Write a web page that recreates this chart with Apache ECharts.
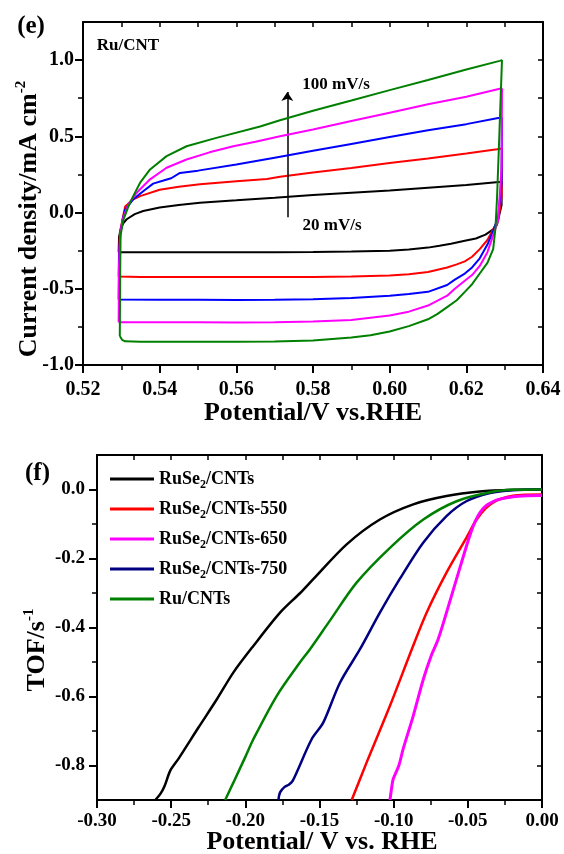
<!DOCTYPE html>
<html><head><meta charset="utf-8">
<script src="https://cdn.jsdelivr.net/npm/echarts@6/dist/echarts.min.js"></script>
<style>html,body{margin:0;padding:0;background:#fff}#c{width:564px;height:854px}</style>
</head><body><div id="c"></div>
<script>
const FONT = '"Liberation Serif","Times New Roman",serif';

// ---------- panel (e): CV of Ru/CNT ----------
const cvXMajor = [0.52, 0.54, 0.56, 0.58, 0.60, 0.62, 0.64];
const cvXMinor = [0.53, 0.55, 0.57, 0.59, 0.61, 0.63];
const cvYMajor = [-1.0, -0.5, 0.0, 0.5, 1.0];
const cvYMinor = [-0.75, -0.25, 0.25, 0.75];
const scanRates = ['20 mV/s', '40 mV/s', '60 mV/s', '80 mV/s', '100 mV/s'];
const cvColors = ['#000000', '#ff0000', '#0000ff', '#ff00ff', '#008000'];
const arrowX = 0.5733;
const arrowY = [-0.03, 0.79];

const cv20 = [[0.5293,-0.26],[0.5294,-0.16],[0.5298,-0.11],[0.5305,-0.07],[0.5314,-0.044],[0.5335,-0.01],[0.5357,0.01],[0.54,0.033],[0.545,0.05],[0.5505,0.065],[0.56,0.08],[0.57,0.097],[0.58,0.115],[0.59,0.13],[0.60,0.145],[0.61,0.163],[0.62,0.18],[0.6285,0.2],[0.6292,0.2],[0.6292,0.05],[0.628,-0.08],[0.627,-0.11],[0.625,-0.145],[0.6225,-0.17],[0.6196,-0.185],[0.616,-0.205],[0.613,-0.218],[0.61,-0.23],[0.605,-0.242],[0.60,-0.25],[0.59,-0.255],[0.58,-0.258],[0.57,-0.26],[0.56,-0.26],[0.55,-0.26],[0.54,-0.26],[0.535,-0.26],[0.5293,-0.26]];
const cv40 = [[0.5293,-0.42],[0.5294,-0.25],[0.5297,-0.12],[0.5305,-0.02],[0.531,0.04],[0.533,0.085],[0.5349,0.108],[0.54,0.15],[0.545,0.17],[0.5505,0.185],[0.56,0.205],[0.568,0.22],[0.5714,0.235],[0.58,0.262],[0.59,0.293],[0.60,0.325],[0.61,0.355],[0.62,0.388],[0.628,0.415],[0.6293,0.42],[0.6292,0.1],[0.6283,-0.05],[0.627,-0.11],[0.6255,-0.18],[0.6235,-0.24],[0.6215,-0.29],[0.6196,-0.32],[0.6175,-0.34],[0.615,-0.36],[0.61,-0.39],[0.605,-0.405],[0.60,-0.413],[0.59,-0.42],[0.58,-0.423],[0.57,-0.423],[0.56,-0.423],[0.55,-0.422],[0.54,-0.422],[0.535,-0.422],[0.5293,-0.42]];
const cv60 = [[0.5293,-0.57],[0.5294,-0.3],[0.5297,-0.15],[0.5303,-0.05],[0.531,0.02],[0.5331,0.087],[0.5357,0.14],[0.5383,0.19],[0.541,0.21],[0.543,0.225],[0.5453,0.26],[0.55,0.275],[0.56,0.315],[0.57,0.36],[0.58,0.405],[0.59,0.45],[0.60,0.495],[0.61,0.54],[0.62,0.58],[0.6283,0.62],[0.6293,0.62],[0.6292,0.2],[0.6283,-0.03],[0.627,-0.12],[0.6255,-0.21],[0.6235,-0.30],[0.6215,-0.36],[0.6196,-0.40],[0.617,-0.44],[0.615,-0.475],[0.61,-0.52],[0.605,-0.535],[0.60,-0.545],[0.59,-0.56],[0.58,-0.568],[0.57,-0.572],[0.56,-0.573],[0.55,-0.572],[0.54,-0.572],[0.5293,-0.57]];
const cv80 = [[0.5293,-0.72],[0.5294,-0.35],[0.5297,-0.15],[0.5303,-0.05],[0.531,0.0],[0.532,0.06],[0.534,0.13],[0.5375,0.218],[0.5418,0.294],[0.547,0.348],[0.553,0.395],[0.5592,0.435],[0.565,0.465],[0.5714,0.5],[0.58,0.545],[0.59,0.6],[0.60,0.655],[0.61,0.71],[0.62,0.76],[0.6287,0.812],[0.6293,0.812],[0.6292,0.3],[0.6283,-0.05],[0.627,-0.15],[0.6255,-0.26],[0.6235,-0.35],[0.6215,-0.41],[0.6196,-0.447],[0.617,-0.5],[0.615,-0.545],[0.61,-0.61],[0.605,-0.65],[0.60,-0.675],[0.59,-0.705],[0.58,-0.715],[0.57,-0.72],[0.56,-0.722],[0.55,-0.72],[0.54,-0.72],[0.5293,-0.72]];
const cv100 = [[0.5296,-0.81],[0.5297,-0.4],[0.5298,-0.15],[0.5305,-0.05],[0.532,0.05],[0.5331,0.108],[0.5349,0.196],[0.5375,0.283],[0.5418,0.37],[0.547,0.435],[0.5548,0.49],[0.5662,0.565],[0.5714,0.606],[0.58,0.668],[0.59,0.735],[0.60,0.803],[0.61,0.87],[0.62,0.938],[0.6287,0.995],[0.6293,1.0],[0.6286,0.5],[0.628,0.09],[0.6276,-0.1],[0.627,-0.24],[0.6255,-0.33],[0.6235,-0.40],[0.6215,-0.47],[0.6196,-0.52],[0.6175,-0.575],[0.615,-0.62],[0.6125,-0.665],[0.61,-0.70],[0.605,-0.745],[0.60,-0.78],[0.595,-0.805],[0.59,-0.82],[0.58,-0.84],[0.57,-0.846],[0.56,-0.848],[0.55,-0.847],[0.54,-0.848],[0.535,-0.847],[0.531,-0.845],[0.5302,-0.835],[0.5296,-0.81]];
const cvSeries = [cv20, cv40, cv60, cv80, cv100];

// ---------- panel (f): TOF ----------
const tofXMajor = [-0.30, -0.25, -0.20, -0.15, -0.10, -0.05, 0.00];
const tofXMinor = [-0.275, -0.225, -0.175, -0.125, -0.075, -0.025];
const tofYMajor = [-0.8, -0.6, -0.4, -0.2, 0.0];
const tofYMinor = [-0.7, -0.5, -0.3, -0.1];
const tofNames = ['RuSe2/CNTs', 'RuSe2/CNTs-550', 'RuSe2/CNTs-650', 'RuSe2/CNTs-750', 'Ru/CNTs'];
const tofColors = ['#000000', '#ff0000', '#ff00ff', '#000080', '#008000'];

const tofRuSe2 = [[-0.2607,-0.9],[-0.2574,-0.883],[-0.2545,-0.86],[-0.2506,-0.815],[-0.245,-0.78],[-0.2316,-0.69],[-0.2192,-0.608],[-0.208,-0.53],[-0.1946,-0.4535],[-0.1766,-0.357],[-0.163,-0.3],[-0.1542,-0.26],[-0.1317,-0.159],[-0.1093,-0.087],[-0.0868,-0.043],[-0.0644,-0.019],[-0.042,-0.006],[-0.0195,-0.001],[0,0]];
const tof550 = [[-0.1283,-0.9],[-0.1182,-0.791],[-0.1025,-0.627],[-0.0875,-0.46],[-0.0778,-0.357],[-0.0644,-0.241],[-0.051,-0.14],[-0.0445,-0.09],[-0.038,-0.055],[-0.0307,-0.032],[-0.0195,-0.018],[-0.01,-0.015],[0,-0.0145]];
const tof650 = [[-0.1025,-0.9],[-0.1012,-0.86],[-0.1003,-0.839],[-0.0965,-0.8],[-0.0936,-0.752],[-0.0868,-0.656],[-0.08,-0.55],[-0.0745,-0.48],[-0.07,-0.434],[-0.0644,-0.357],[-0.0543,-0.212],[-0.0464,-0.106],[-0.0397,-0.055],[-0.0307,-0.031],[-0.0195,-0.021],[-0.01,-0.018],[0,-0.0174]];
const tof750 = [[-0.1777,-0.9],[-0.1766,-0.878],[-0.1735,-0.862],[-0.1705,-0.855],[-0.168,-0.844],[-0.1553,-0.724],[-0.1474,-0.675],[-0.1362,-0.56],[-0.1227,-0.463],[-0.1093,-0.357],[-0.096,-0.26],[-0.0801,-0.154],[-0.0644,-0.077],[-0.051,-0.034],[-0.035,-0.01],[-0.0195,-0.002],[0,0]];
const tofRu = [[-0.2136,-0.9],[-0.208,-0.849],[-0.2,-0.775],[-0.1946,-0.724],[-0.1788,-0.598],[-0.163,-0.5],[-0.1564,-0.463],[-0.143,-0.38],[-0.125,-0.27],[-0.1025,-0.169],[-0.08,-0.087],[-0.0576,-0.034],[-0.035,-0.008],[-0.0195,-0.001],[0,0]];
const tofSeries = [tofRuSe2, tof550, tof650, tof750, tofRu];
const tofWidths = [2.5, 2.5, 3, 2.5, 2.5];

function axis(gridIndex, min, max, position, tickVals, tickLen, inside, labelVals, digits, fontSize, margin, showLine, tickW) {
  return {
    gridIndex: gridIndex, type: 'value', min: min, max: max, position: position,
    axisLine: { show: showLine, onZero: false, lineStyle: { color: '#000', width: 2 } },
    axisTick: { show: true, inside: inside, length: tickLen, customValues: tickVals, lineStyle: { color: '#000', width: tickW } },
    axisLabel: labelVals ? {
      show: true, customValues: labelVals, showMinLabel: true, showMaxLabel: true,
      formatter: function (v) { return Number(v).toFixed(digits); },
      fontSize: fontSize, fontWeight: 'bold', fontFamily: FONT, color: '#000', margin: margin
    } : { show: false },
    splitLine: { show: false }, minorTick: { show: false }, minorSplitLine: { show: false }
  };
}

const xAxes = [
  axis(0, 0.52, 0.64, 'bottom', cvXMajor, 8, false, cvXMajor, 2, 20, 15, true, 2),
  axis(0, 0.52, 0.64, 'bottom', cvXMinor, 5, false, null, 0, 0, 0, false, 1.5),
  axis(0, 0.52, 0.64, 'top', cvXMajor.concat(cvXMinor), 5, true, null, 0, 0, 0, true, 1.5),
  axis(1, -0.30, 0.00, 'bottom', tofXMajor, 8, false, tofXMajor, 2, 19, 12, true, 2),
  axis(1, -0.30, 0.00, 'bottom', tofXMinor, 5, false, null, 0, 0, 0, false, 1.5),
  axis(1, -0.30, 0.00, 'top', tofXMajor.concat(tofXMinor), 5, true, null, 0, 0, 0, true, 1.5)
];
const yAxes = [
  axis(0, -1.0, 1.25, 'left', cvYMajor, 8, false, cvYMajor, 1, 20, 9, true, 2),
  axis(0, -1.0, 1.25, 'left', cvYMinor, 5, false, null, 0, 0, 0, false, 1.5),
  axis(0, -1.0, 1.25, 'right', cvYMajor.concat(cvYMinor), 5, true, null, 0, 0, 0, true, 1.5),
  axis(1, -0.9, 0.1, 'left', tofYMajor, 8, false, tofYMajor, 1, 19, 12, true, 2),
  axis(1, -0.9, 0.1, 'left', tofYMinor, 5, false, null, 0, 0, 0, false, 1.5),
  axis(1, -0.9, 0.1, 'right', tofYMajor.concat(tofYMinor), 5, true, null, 0, 0, 0, true, 1.5)
];

const series = [];
cvSeries.forEach(function (d, i) {
  const s = {
    name: scanRates[i], type: 'line', xAxisIndex: 0, yAxisIndex: 0, data: d,
    showSymbol: false, symbol: 'none', smooth: false, clip: false,
    lineStyle: { color: cvColors[i], width: 2 }, itemStyle: { color: cvColors[i] }, z: 3 + i
  };
  if (i === 0) {
    s.markLine = {
      silent: true, symbol: ['none', 'arrow'], symbolSize: 9, animation: false,
      label: { show: false },
      lineStyle: { color: '#000', width: 1.5, type: 'solid' },
      data: [[{ coord: [arrowX, arrowY[0]] }, { coord: [arrowX, arrowY[1]] }]]
    };
  }
  series.push(s);
});
tofSeries.forEach(function (d, i) {
  series.push({
    name: tofNames[i], type: 'line', xAxisIndex: 3, yAxisIndex: 3, data: d,
    showSymbol: false, symbol: 'none', smooth: 0.3,
    lineStyle: { color: tofColors[i], width: tofWidths[i] }, itemStyle: { color: tofColors[i] }, z: 3 + i
  });
});

const boldText = function (x, y, text, size, extra) {
  return {
    type: 'text', x: x, y: y, silent: true,
    style: Object.assign({
      text: text, fill: '#000', fontSize: size, fontWeight: 'bold', fontFamily: FONT,
      align: 'center', verticalAlign: 'middle'
    }, extra || {})
  };
};

const yTitleTop = boldText(29, 219, 'Current density/mA cm{sup|-2}', 26, {
  lineHeight: 30,
  rich: { sup: { fontSize: 15, fontWeight: 'bold', fontFamily: FONT, fill: '#000', verticalAlign: 'top', lineHeight: 8 } }
});
yTitleTop.rotation = Math.PI / 2;
const yTitleBot = boldText(37, 650, 'TOF/s{sup|-1}', 26, {
  lineHeight: 30,
  rich: { sup: { fontSize: 15, fontWeight: 'bold', fontFamily: FONT, fill: '#000', verticalAlign: 'top', lineHeight: 10 } }
});
yTitleBot.rotation = Math.PI / 2;

const option = {
  animation: false,
  backgroundColor: '#fff',
  grid: [
    { left: 83, top: 22, width: 460, height: 343, containLabel: false },
    { left: 97, top: 455, width: 445, height: 345, containLabel: false }
  ],
  xAxis: xAxes,
  yAxis: yAxes,
  legend: {
    data: tofNames, orient: 'vertical', left: 110, top: 467, padding: 0,
    itemWidth: 44, itemHeight: 3, itemGap: 6, icon: 'rect', selectedMode: false,
    formatter: function (n) { return n.replace('Se2', 'Se{s|2}'); },
    textStyle: {
      fontSize: 18, fontWeight: 'bold', fontFamily: FONT, color: '#000', lineHeight: 24,
      rich: { s: { fontSize: 12, fontWeight: 'bold', fontFamily: FONT, color: '#000', verticalAlign: 'bottom', lineHeight: 8 } }
    }
  },
  series: series,
  graphic: [
    boldText(31, 27, '(e)', 25),
    boldText(128, 46, 'Ru/CNT', 17),
    boldText(336, 85, scanRates[4], 17),
    boldText(332, 226, scanRates[0], 17),
    boldText(313, 413, 'Potential/V vs.RHE', 26),
    yTitleTop,
    boldText(37.5, 474, '(f)', 25),
    boldText(322, 842, 'Potential/ V vs. RHE', 26),
    yTitleBot
  ]
};

const chart = echarts.init(document.getElementById('c'), null, { renderer: 'canvas' });
chart.setOption(option);
</script>
</body></html>
